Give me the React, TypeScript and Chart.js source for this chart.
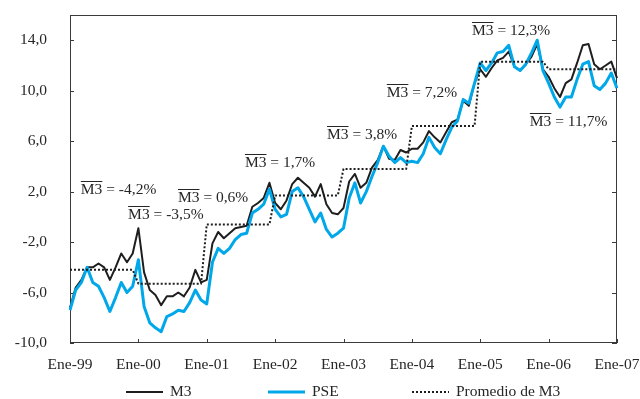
import { useEffect, useRef } from 'react';
import { Chart, registerables } from 'chart.js';

Chart.register(...registerables);

// ---------- data ----------
const monthNames = ['Ene', 'Feb', 'Mar', 'Abr', 'May', 'Jun', 'Jul', 'Ago', 'Sep', 'Oct', 'Nov', 'Dic'];
const yearCodes = ['99', '00', '01', '02', '03', '04', '05', '06', '07'];
const monthLabels: string[] = [];
yearCodes.forEach((yc, yi) => {
  monthNames.forEach((mn, mi) => {
    if (yi < yearCodes.length - 1 || mi === 0) monthLabels.push(`${mn}-${yc}`);
  });
});

const m3Values = [
  -7.2, -5.6, -5.0, -4.0, -4.0, -3.7, -4.0, -5.0, -4.0, -2.9, -3.6, -2.9,
  -0.9, -4.4, -5.8, -6.2, -7.0, -6.3, -6.3, -6.0, -6.3, -5.6, -4.2, -5.2,
  -5.0, -2.1, -1.2, -1.7, -1.3, -0.9, -0.8, -0.7, 0.8, 1.1, 1.5, 2.7,
  1.1, 0.6, 1.3, 2.6, 3.1, 2.7, 2.3, 1.6, 2.6, 1.0, 0.3, 0.2,
  0.7, 2.8, 3.4, 2.3, 2.7, 3.9, 4.5, 5.6, 4.6, 4.5, 5.3, 5.1,
  5.4, 5.4, 5.9, 6.8, 6.3, 5.9, 6.7, 7.5, 7.7, 9.2, 8.8, 10.6,
  11.7, 11.1, 11.8, 12.4, 12.6, 13.1, 11.9, 11.6, 12.1, 12.7, 13.7, 11.7,
  11.1, 10.2, 9.5, 10.6, 10.9, 12.2, 13.6, 13.7, 12.1, 11.7, 12.0, 12.3,
  11.0,
];

const pseValues = [
  -7.4, -5.8, -5.2, -4.0, -5.2, -5.5, -6.4, -7.5, -6.4, -5.2, -6.0, -5.5,
  -3.4, -7.1, -8.4, -8.8, -9.1, -7.9, -7.7, -7.4, -7.5, -6.8, -5.8, -6.6,
  -6.9, -3.6, -2.5, -2.9, -2.5, -1.8, -1.4, -1.3, 0.3, 0.6, 1.0, 2.2,
  0.6, 0.0, 0.2, 2.0, 2.3, 1.6, 0.6, -0.4, 0.3, -1.0, -1.6, -1.3,
  -0.9, 1.5, 2.7, 1.1, 2.0, 3.2, 4.3, 5.6, 4.8, 4.3, 4.7, 4.3,
  4.4, 4.3, 5.0, 6.3, 5.5, 5.0, 6.1, 7.1, 7.6, 9.3, 9.0, 10.6,
  12.2, 11.6, 12.2, 13.0, 13.1, 13.6, 11.9, 11.6, 12.1, 13.0, 14.0, 11.6,
  10.6, 9.5, 8.7, 9.5, 9.5, 10.9, 12.1, 12.3, 10.4, 10.1, 10.6, 11.4,
  10.2,
];

// yearly average of M3 as plotted (1999 ... 2006)
const yearlyAverage = [-4.2, -5.3, -0.6, 1.7, 3.8, 7.2, 12.3, 11.7];
const averageValues = monthLabels.map((_, i) => yearlyAverage[Math.min(Math.floor(i / 12), yearlyAverage.length - 1)]);

const yTickValues = [-10, -6, -2, 2, 6, 10, 14];

const seriesNames = ['M3', 'PSE', 'Promedio de M3'];

// annotation texts (value part after "M3 = ") and anchors in data units [month index, value]
const annotationTexts = ['-4,2%', '-3,5%', '0,6%', '1,7%', '3,8%', '7,2%', '12,3%', '11,7%'];
const annotationAnchors: [number, number][] = [
  [1.9, 2.1], [10.2, 0.15], [18.95, 1.5], [30.7, 4.3], [45.1, 6.5], [55.6, 9.85], [70.55, 14.7], [80.7, 7.55],
];

// ---------- styles ----------
const FONT = '"Liberation Serif", "Times New Roman", serif';
const FONT_SIZE = 15.5;
const TEXT_COLOR = '#262626';
const AXIS_COLOR = '#3a3a3a';

const framePlugin = {
  id: 'frameTicks',
  beforeDatasetsDraw(chart: any) {
    const { ctx, chartArea: a, scales } = chart;
    ctx.save();
    ctx.strokeStyle = AXIS_COLOR;
    ctx.lineWidth = 1;
    ctx.strokeRect(Math.round(a.left) + 0.5, Math.round(a.top) + 0.5, Math.round(a.right - a.left) - 1, Math.round(a.bottom - a.top) - 1);
    ctx.beginPath();
    yTickValues.forEach((v) => {
      const py = Math.round(scales.y.getPixelForValue(v)) + 0.5;
      ctx.moveTo(a.left, py);
      ctx.lineTo(a.left + 4, py);
      ctx.moveTo(a.right - 5, py);
      ctx.lineTo(a.right, py);
    });
    monthLabels.forEach((_, i) => {
      if (i % 12 !== 0) return;
      const px = Math.round(scales.x.getPixelForValue(i)) + 0.5;
      ctx.moveTo(px, a.bottom);
      ctx.lineTo(px, a.bottom - 4);
    });
    ctx.stroke();
    ctx.restore();
  },
  afterDraw(chart: any) {
    const { ctx, scales } = chart;
    ctx.save();
    ctx.font = `${FONT_SIZE}px ${FONT}`;
    ctx.fillStyle = TEXT_COLOR;
    ctx.strokeStyle = TEXT_COLOR;
    ctx.textBaseline = 'middle';
    ctx.textAlign = 'left';
    annotationTexts.forEach((t, i) => {
      const [mx, vy] = annotationAnchors[i];
      const x = scales.x.getPixelForValue(mx);
      const y = scales.y.getPixelForValue(vy);
      const w = ctx.measureText('M3').width;
      ctx.fillText('M3', x, y);
      ctx.beginPath();
      ctx.lineWidth = 1;
      ctx.moveTo(x, Math.round(y - 9) + 0.5);
      ctx.lineTo(x + w, Math.round(y - 9) + 0.5);
      ctx.stroke();
      ctx.fillText(' = ' + t, x + w, y);
    });

    // legend
    const legendY = 392;
    const legendStarts = [126, 268, 412];
    const lineLen = 37;
    chart.data.datasets.forEach((ds: any, i: number) => {
      const x0 = legendStarts[i];
      ctx.beginPath();
      ctx.lineWidth = ds.borderWidth;
      ctx.strokeStyle = ds.borderColor;
      ctx.setLineDash(ds.borderDash || []);
      ctx.moveTo(x0, legendY);
      ctx.lineTo(x0 + lineLen, legendY);
      ctx.stroke();
      ctx.setLineDash([]);
      ctx.fillStyle = TEXT_COLOR;
      ctx.fillText(ds.label, x0 + lineLen + 7, legendY);
    });
    ctx.restore();
  },
};

export default function App() {
  const ref = useRef<HTMLCanvasElement>(null);

  useEffect(() => {
    const chart = new Chart(ref.current as HTMLCanvasElement, {
      type: 'line',
      data: {
        labels: monthLabels,
        datasets: [
          {
            label: seriesNames[0],
            data: m3Values,
            borderColor: '#1e1e1e',
            borderWidth: 2,
            pointRadius: 0,
            order: 2,
          },
          {
            label: seriesNames[1],
            data: pseValues,
            borderColor: '#00a8ea',
            borderWidth: 3,
            pointRadius: 0,
            order: 1,
          },
          {
            label: seriesNames[2],
            data: averageValues,
            borderColor: '#1e1e1e',
            borderWidth: 2,
            borderDash: [2, 2],
            pointRadius: 0,
            order: 0,
          },
        ] as any,
      },
      options: {
        responsive: false,
        devicePixelRatio: 1,
        animation: false,
        layout: { padding: 0, autoPadding: false },
        elements: { line: { tension: 0, borderJoinStyle: 'round' as any } },
        plugins: {
          legend: { display: false },
          tooltip: { enabled: false },
        },
        scales: {
          x: {
            type: 'category',
            offset: false,
            grid: { display: false, drawTicks: false },
            border: { display: false },
            afterFit: (s: any) => {
              s.height = 56;
              s.paddingLeft = 0;
              s.paddingRight = 23;
            },
            ticks: {
              autoSkip: false,
              maxRotation: 0,
              padding: 13,
              color: TEXT_COLOR,
              font: { family: FONT, size: FONT_SIZE },
              callback: (_v: any, i: number) => (i % 12 === 0 ? monthLabels[i] : null),
            },
          },
          y: {
            type: 'linear',
            min: -10,
            max: 16,
            grid: { display: false, drawTicks: false },
            border: { display: false },
            afterBuildTicks: (s: any) => {
              s.ticks = yTickValues.map((v) => ({ value: v }));
            },
            afterFit: (s: any) => {
              s.width = 70;
              s.paddingTop = 15;
              s.paddingBottom = 0;
            },
            ticks: {
              padding: 23,
              color: TEXT_COLOR,
              font: { family: FONT, size: FONT_SIZE },
              callback: (v: any) => Number(v).toFixed(1).replace('.', ','),
            },
          },
        },
      },
      plugins: [framePlugin],
    });
    return () => chart.destroy();
  }, []);

  return (
    <div style={{ position: 'fixed', left: 0, top: 0, width: 640, height: 399, background: '#fff' }}>
      <canvas ref={ref} width={640} height={399} style={{ display: 'block', width: 640, height: 399 }} />
    </div>
  );
}
